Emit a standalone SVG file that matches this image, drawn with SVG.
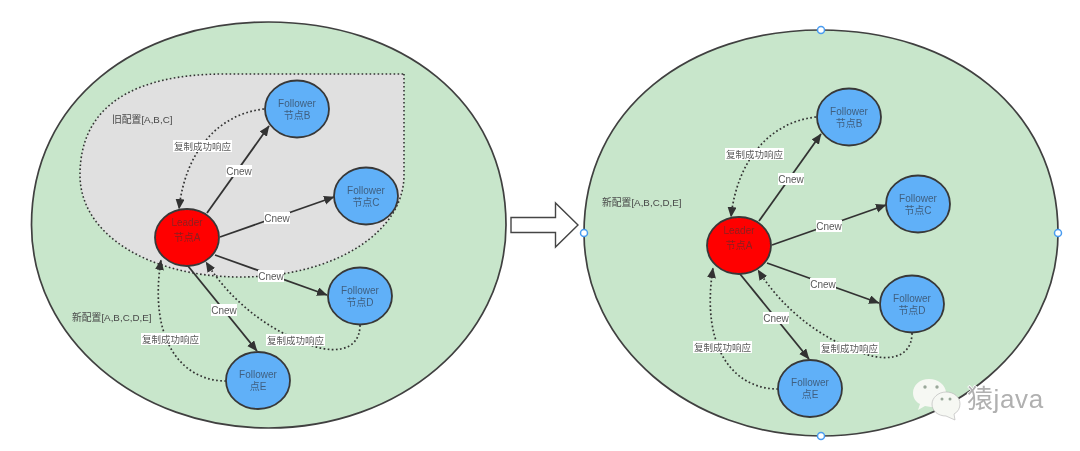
<svg xmlns="http://www.w3.org/2000/svg" width="1080" height="451" viewBox="0 0 1080 451">
<style>
text{font-family:"Liberation Sans","Noto Sans CJK SC",sans-serif;font-size:10px;text-anchor:middle;fill:#5a5a5a}
.zone{fill:#c8e6cb;stroke:#404040;stroke-width:1.7}
.old{fill:#e0e0e0;stroke:#333;stroke-width:1.6;stroke-dasharray:1.6 2.4}
.f{fill:#60b0f8;stroke:#383838;stroke-width:1.8}
.f+text,.f+text+text{fill:#3f5f80}
.l{fill:#f00;stroke:#383838;stroke-width:1.8}
.l+text,.l+text+text{fill:#8c2020}
.e{fill:none;stroke:#333;stroke-width:1.8;marker-end:url(#a)}
.d{fill:none;stroke:#333;stroke-width:1.7;stroke-dasharray:1.7 2.4;marker-end:url(#a)}
.b{fill:#fff}
.s{font-size:9.5px}
.t{text-anchor:start;font-size:9.8px;fill:#484848}
.h{fill:#fff;stroke:#4a9cf0;stroke-width:1.5}
.eye{fill:#9aa89a}
.bub{fill:#f6f8f3}
.mark{text-anchor:start;font-size:26px;fill:#b0b0b0;stroke:#fff;stroke-width:1.4;paint-order:stroke;letter-spacing:.6px}
</style>
<defs>
<marker id="a" markerUnits="userSpaceOnUse" markerWidth="12" markerHeight="10" refX="10" refY="4.500" orient="auto"><path d="M0 0L10.500 4.500L0 9Z" fill="#333"/></marker>
<filter id="soft" x="0" y="0" width="100%" height="100%"><feGaussianBlur stdDeviation="0.3"/></filter>
</defs>
<g filter="url(#soft)">
<rect x="0" y="0" width="1080" height="451" fill="#fff"/>
<g id="zone-left"><path class="zone" d="M31.500 225C31.500 100 137 22 268.500 22C400 22 506 100 506 225C506 338 400 428 268.500 428C137 428 31.500 338 31.500 225Z"/></g>
<g id="old-config"><path class="old" d="M404 74V175C404 232 335 277 240 277C150 277 80 235 80 175C80 105 135 74 225 74Z"/></g>
<g id="zone-right"><path class="zone" d="M584 233C584 108 690 30 821 30C952 30 1058 108 1058 233C1058 345 952 436 821 436C690 436 584 345 584 233Z"/></g>
<g id="arrow"><path d="M511 217.500H555.500V203L578 225L555.500 247V232.500H511Z" fill="#fff" stroke="#444" stroke-width="1.400"/></g>
<g id="connectors-left" transform="translate(-552 -8)">
<path class="e" d="M759 221L821 134"/><path class="e" d="M772 245L886 205"/><path class="e" d="M767 263L879 303"/><path class="e" d="M740 274L809 359"/>
<path class="d" d="M816 117C770 122 737 160 731 217"/><path class="d" d="M778 389C735 389 700 350 713 268"/><path class="d" d="M912 333C912 362 880 362 855 350C815 335 780 305 758 270"/>
<rect class="b" x="778" y="173" width="26" height="12"/><text x="791" y="182.500">Cnew</text>
<rect class="b" x="816" y="220" width="26" height="12"/><text x="829" y="229.500">Cnew</text>
<rect class="b" x="810" y="278" width="26" height="12"/><text x="823" y="287.500">Cnew</text>
<rect class="b" x="763" y="312" width="26" height="12"/><text x="776" y="321.500">Cnew</text>
<rect class="b" x="725" y="148" width="59" height="12"/><text class="s" x="754.500" y="157.500">复制成功响应</text>
<rect class="b" x="693" y="341" width="59" height="12"/><text class="s" x="722.500" y="350.500">复制成功响应</text>
<rect class="b" x="818" y="342" width="59" height="12"/><text class="s" x="847.500" y="351.500">复制成功响应</text>
</g>
<g id="connectors-right">
<path class="e" d="M759 221L821 134"/><path class="e" d="M772 245L886 205"/><path class="e" d="M767 263L879 303"/><path class="e" d="M740 274L809 359"/>
<path class="d" d="M816 117C770 122 737 160 731 217"/><path class="d" d="M778 389C735 389 700 350 713 268"/><path class="d" d="M912 333C912 362 880 362 855 350C815 335 780 305 758 270"/>
<rect class="b" x="778" y="173" width="26" height="12"/><text x="791" y="182.500">Cnew</text>
<rect class="b" x="816" y="220" width="26" height="12"/><text x="829" y="229.500">Cnew</text>
<rect class="b" x="810" y="278" width="26" height="12"/><text x="823" y="287.500">Cnew</text>
<rect class="b" x="763" y="312" width="26" height="12"/><text x="776" y="321.500">Cnew</text>
<rect class="b" x="725" y="148" width="59" height="12"/><text class="s" x="754.500" y="157.500">复制成功响应</text>
<rect class="b" x="693" y="341" width="59" height="12"/><text class="s" x="722.500" y="350.500">复制成功响应</text>
<rect class="b" x="820" y="342" width="59" height="12"/><text class="s" x="849.500" y="351.500">复制成功响应</text>
</g>
<g id="left-leader" transform="translate(-552 -8)"><ellipse class="l" cx="739" cy="245.500" rx="32" ry="28.500"/><text x="739" y="233.500">Leader</text><text x="739" y="248.500">节点A</text></g>
<g id="left-b" transform="translate(-552 -8)"><ellipse class="f" cx="849" cy="117" rx="32" ry="28.500"/><text x="849" y="114.500">Follower</text><text x="849" y="126.500">节点B</text></g>
<g id="left-c" transform="translate(-552 -8)"><ellipse class="f" cx="918" cy="204" rx="32" ry="28.500"/><text x="918" y="201.500">Follower</text><text x="918" y="213.500">节点C</text></g>
<g id="left-d" transform="translate(-552 -8)"><ellipse class="f" cx="912" cy="304" rx="32" ry="28.500"/><text x="912" y="301.500">Follower</text><text x="912" y="313.500">节点D</text></g>
<g id="left-e" transform="translate(-552 -8)"><ellipse class="f" cx="810" cy="388.500" rx="32" ry="28.500"/><text x="810" y="386">Follower</text><text x="810" y="398">点E</text></g>
<g id="right-leader"><ellipse class="l" cx="739" cy="245.500" rx="32" ry="28.500"/><text x="739" y="233.500">Leader</text><text x="739" y="248.500">节点A</text></g>
<g id="right-b"><ellipse class="f" cx="849" cy="117" rx="32" ry="28.500"/><text x="849" y="114.500">Follower</text><text x="849" y="126.500">节点B</text></g>
<g id="right-c"><ellipse class="f" cx="918" cy="204" rx="32" ry="28.500"/><text x="918" y="201.500">Follower</text><text x="918" y="213.500">节点C</text></g>
<g id="right-d"><ellipse class="f" cx="912" cy="304" rx="32" ry="28.500"/><text x="912" y="301.500">Follower</text><text x="912" y="313.500">节点D</text></g>
<g id="right-e"><ellipse class="f" cx="810" cy="388.500" rx="32" ry="28.500"/><text x="810" y="386">Follower</text><text x="810" y="398">点E</text></g>
<g id="captions">
<text class="t" x="112" y="122.500">旧配置[A,B,C]</text>
<text class="t" x="72" y="320.500">新配置[A,B,C,D,E]</text>
<text class="t" x="602" y="205.500">新配置[A,B,C,D,E]</text>
</g>
<g id="handles">
<circle class="h" cx="821" cy="30" r="3.500"/><circle class="h" cx="584" cy="233" r="3.500"/><circle class="h" cx="1058" cy="233" r="3.500"/><circle class="h" cx="821" cy="436" r="3.500"/>
</g>
<g id="watermark">
<path class="bub" d="M929 379C920 379 913 385 913 393C913 398 916 402 920 404L918 410L925 406L931 407C944 407 946 394 946 393C946 385 938 379 929 379Z"/>
<circle class="eye" cx="925" cy="387" r="1.700"/><circle class="eye" cx="937" cy="387" r="1.700"/>
<path class="bub" d="M946 392C938 392 932 398 932 404C932 411 938 416 946 416L955 420L954 414C958 412 960 408 960 404C960 397 954 392 946 392Z" stroke="#bbb" stroke-width=".7"/>
<circle class="eye" cx="942" cy="399" r="1.500"/><circle class="eye" cx="950" cy="399" r="1.500"/>
<text class="mark" x="967" y="408">猿java</text>
</g>
</g>
</svg>
